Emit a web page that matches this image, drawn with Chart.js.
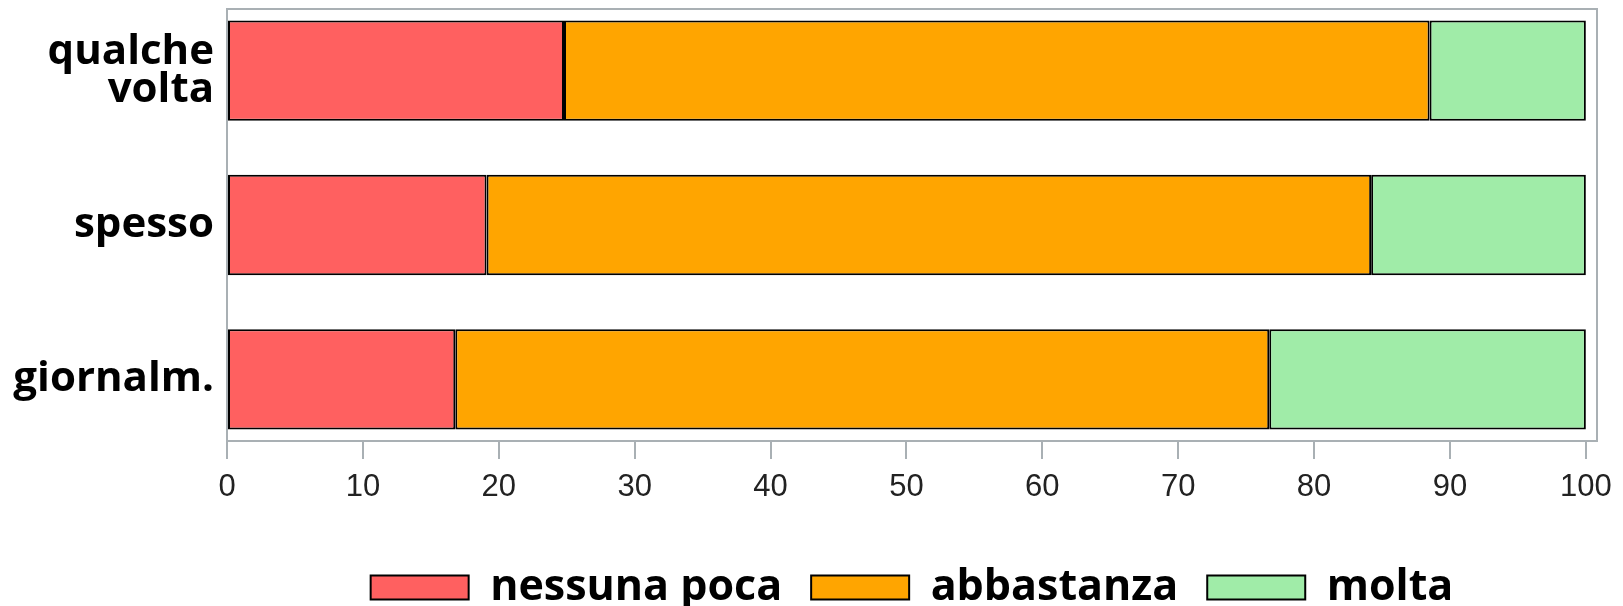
<!DOCTYPE html>
<html>
<head>
<meta charset="utf-8">
<script src="https://cdn.jsdelivr.net/npm/chart.js@4/dist/chart.umd.min.js"></script>
<style>
  html, body { margin: 0; padding: 0; background: #fff; }
  #wrap { width: 1623px; height: 606px; }
</style>
</head>
<body>
<div id="wrap"><canvas id="myBarChart"></canvas></div>
<script>
const categories = [["qualche", "volta"], "spesso", "giornalm."];
const seriesNames = ["nessuna poca", "abbastanza", "molta"];
const nessunaPoca = [24.8, 19.1, 16.8];
const abbastanza = [63.7, 65.1, 59.9];
const molta = [11.5, 15.8, 23.3];
const xTicks = [0, 10, 20, 30, 40, 50, 60, 70, 80, 90, 100];

const colors = ["#ff6060", "#ffa500", "#a0eca8"];

// bars sit on a linear index axis so the frame can hug them
const toPoints = (values) => values.map((v, i) => ({ x: v, y: i }));

const data = {
  datasets: [nessunaPoca, abbastanza, molta].map((values, i) => ({
    label: seriesNames[i],
    data: toPoints(values),
    backgroundColor: colors[i],
    borderColor: "#000",
    borderWidth: 2,
    borderSkipped: false,
    barPercentage: 0.65,
    categoryPercentage: 1,
  })),
};

const framePlugin = {
  id: "frame",
  beforeDatasetsDraw(chart) {
    const { ctx, chartArea: a } = chart;
    ctx.save();
    ctx.strokeStyle = "#a9b0b4";
    ctx.lineWidth = 2;
    ctx.strokeRect(a.left, a.top, a.right - a.left, a.bottom - a.top);
    ctx.restore();
  },
};

const config = {
  type: "bar",
  data: data,
  plugins: [framePlugin],
  options: {
    indexAxis: "y",
    maintainAspectRatio: false,
    responsive: true,
    animation: false,
    layout: { autoPadding: false, padding: { top: 9, right: 26, bottom: -13, left: 0 } },
    scales: {
      x: {
        type: "linear",
        stacked: true,
        min: 0,
        max: 100.82,
        afterBuildTicks: (scale) => {
          scale.ticks = xTicks.map((v) => ({ value: v }));
        },
        afterFit: (scale) => {
          scale.height = 96;
          scale.paddingLeft = 0;
          scale.paddingRight = 0;
        },
        grid: {
          drawOnChartArea: false,
          color: "#a9b0b4",
          lineWidth: 2,
          tickLength: 18,
        },
        border: { display: false },
        ticks: {
          padding: 10,
          color: "#222",
          font: { family: "Liberation Sans", size: 31 },
        },
      },
      y: {
        type: "linear",
        stacked: true,
        reverse: true,
        offset: false,
        min: -0.4,
        max: 2.4,
        afterBuildTicks: (scale) => {
          scale.ticks = categories.map((c, i) => ({ value: i }));
        },
        afterFit: (scale) => {
          scale.width = 227;
          scale.paddingTop = 0;
          scale.paddingBottom = 0;
        },
        grid: { display: false, drawTicks: false, offset: false },
        border: { display: false },
        ticks: {
          padding: 13,
          color: "#000",
          font: { family: "Open Sans", weight: "bold", size: 42, lineHeight: 0.9 },
          callback: (v) => categories[v],
        },
      },
    },
    plugins: {
      tooltip: { enabled: false },
      legend: {
        position: "bottom",
        fullSize: false,
        labels: {
          boxWidth: 98,
          boxHeight: 24,
          padding: 29,
          color: "#000",
          font: { family: "Open Sans", weight: "bold", size: 43 },
        },
      },
    },
  },
};

const ctx = document.getElementById("myBarChart").getContext("2d");
const myBarChart = new Chart(ctx, config);
</script>
</body>
</html>
